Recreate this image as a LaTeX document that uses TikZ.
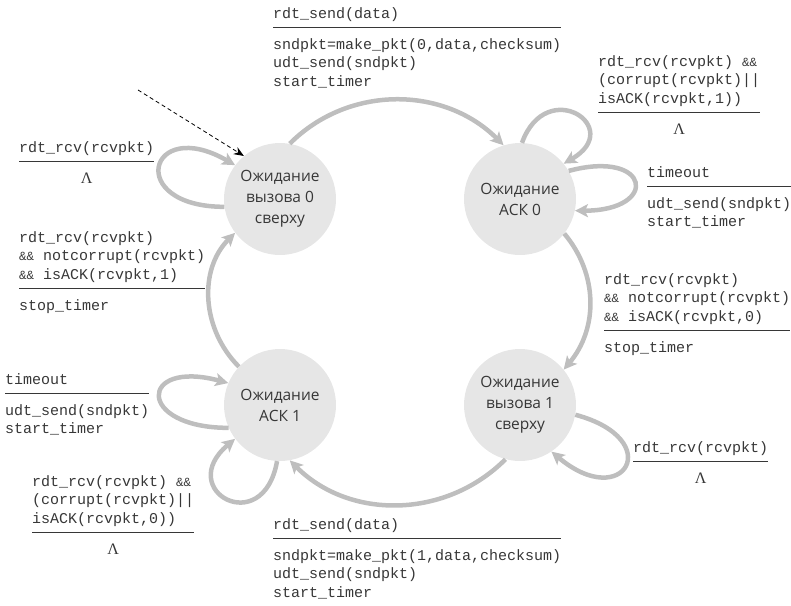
\documentclass[tikz,border=0pt]{standalone}
\usepackage{fontspec}
\setsansfont{Open Sans}
\setmonofont{Liberation Mono}
\newfontfamily\lamfont{Liberation Serif}
\usetikzlibrary{arrows.meta}

\definecolor{stfill}{RGB}{230,230,230}
\definecolor{flowgray}{RGB}{190,190,190}
\definecolor{txtgray}{RGB}{55,55,55}

% condition, rule, action
\newcommand{\rdtlabel}[2]{\begin{tabular}{@{}l@{}}#1\\[3pt]\hline\noalign{\vskip9pt}#2\end{tabular}}
\newcommand{\nop}{\multicolumn{1}{@{}c@{}}{\lamfont\fontsize{16}{16}\selectfont Λ}}
\newcommand{\andand}{{\fontsize{12.5}{12.5}\selectfont\&\&}}

\begin{document}
\begin{tikzpicture}[x=1pt,y=1pt,
  state/.style={circle,fill=stfill,minimum size=112pt,inner sep=0pt,align=center,
    text=txtgray,font=\sffamily\fontsize{15.5}{21}\selectfont},
  trans/.style={anchor=north west,inner sep=0pt,text=txtgray,
    font=\ttfamily\fontsize{15}{18.5}\selectfont},
  flow/.style={draw=flowgray,line width=4.5pt,-{Stealth[length=13pt,width=13pt,inset=3pt]}},
  initarr/.style={draw=black,line width=0.8pt,dash pattern=on 4pt off 3pt,-{Stealth[length=10pt,width=8pt]}}]
\useasboundingbox (0,0) rectangle (791,-605);

% states
\node[state] (s1) at (280,-199) {Ожидание\\вызова 0\\сверху};
\node[state] (s2) at (520,-199) {Ожидание\\АСК 0};
\node[state] (s3) at (520,-405) {Ожидание\\вызова 1\\сверху};
\node[state] (s4) at (280,-405) {Ожидание\\АСК 1};

% transitions between states
\draw[flow] (s1.80) to[out=45,in=135] (s2.107);
\draw[flow] (s2.-38) to[out=-50,in=50] (s3.39);
\draw[flow] (s3.-105) to[out=-135,in=-45] (s4.-80);
\draw[flow] (s4.137) to[out=135,in=-135] (s1.-143);

% self loops
\draw[flow] (s1.188) to[out=180,in=150,distance=100pt] (s1.143);
\draw[flow] (s2.88) to[out=70,in=30,distance=72pt] (s2.39);
\draw[flow] (s2.30) to[out=15,in=0,distance=85pt] (s2.-12);
\draw[flow] (s3.-10) to[out=-15,in=-40,distance=95pt] (s3.-56);
\draw[flow] (s4.204) to[out=180,in=165,distance=93pt] (s4.157);
\draw[flow] (s4.-93) to[out=-100,in=220,distance=80pt] (s4.217);

% start
\coordinate (init) at (138,-90);
\draw[initarr] (init) -- (s1.130);

% labels
\node[trans] (t1) at (273,-5) {\rdtlabel{rdt\_send(data)}{sndpkt=make\_pkt(0,data,checksum)\\udt\_send(sndpkt)\\start\_timer}};
\node[trans] (t2) at (598,-53) {\rdtlabel{rdt\_rcv(rcvpkt) \andand\\(corrupt(rcvpkt)||\\isACK(rcvpkt,1))}{\nop}};
\node[trans] (t3) at (647,-164) {\rdtlabel{timeout}{udt\_send(sndpkt)\\start\_timer}};
\node[trans] (t4) at (604,-271) {\rdtlabel{rdt\_rcv(rcvpkt)\\\andand{} notcorrupt(rcvpkt)\\\andand{} isACK(rcvpkt,0)}{stop\_timer}};
\node[trans] (t5) at (633,-439) {\rdtlabel{rdt\_rcv(rcvpkt)}{\nop}};
\node[trans] (t6) at (273,-516) {\rdtlabel{rdt\_send(data)}{sndpkt=make\_pkt(1,data,checksum)\\udt\_send(sndpkt)\\start\_timer}};
\node[trans] (t7) at (32,-473) {\rdtlabel{rdt\_rcv(rcvpkt) \andand\\(corrupt(rcvpkt)||\\isACK(rcvpkt,0))}{\nop}};
\node[trans] (t8) at (5,-371) {\rdtlabel{timeout}{udt\_send(sndpkt)\\start\_timer}};
\node[trans] (t9) at (19,-139) {\rdtlabel{rdt\_rcv(rcvpkt)}{\nop}};
\node[trans] (t10) at (19,-229) {\rdtlabel{rdt\_rcv(rcvpkt)\\\andand{} notcorrupt(rcvpkt)\\\andand{} isACK(rcvpkt,1)}{stop\_timer}};
\end{tikzpicture}
\end{document}
